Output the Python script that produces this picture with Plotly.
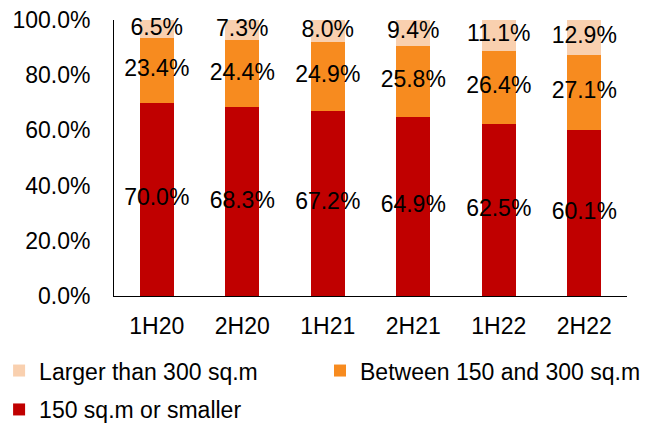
import plotly.graph_objects as go

categories = ["1H20", "2H20", "1H21", "2H21", "1H22", "2H22"]
small = [70.0, 68.3, 67.2, 64.9, 62.5, 60.1]
between = [23.4, 24.4, 24.9, 25.8, 26.4, 27.1]
larger = [6.5, 7.3, 8.0, 9.4, 11.1, 12.9]
y_ticks = [0, 20, 40, 60, 80, 100]

series = [
    ("150 sq.m or smaller", small, "#C00000", "legend3"),
    ("Between 150 and 300 sq.m", between, "#F78B1F", "legend2"),
    ("Larger than 300 sq.m", larger, "#F9D0AF", "legend"),
]

FONT = "Liberation Sans, Arial, sans-serif"
fig = go.Figure()
base = [0.0] * len(categories)
for name, vals, color, lg in series:
    fig.add_trace(go.Bar(x=categories, y=[v / 100 for v in vals], name=name,
                         legend=lg,
                         marker=dict(color=color, line=dict(width=0))))
    mids = [(b + v / 2) / 100 for b, v in zip(base, vals)]
    fig.add_trace(go.Scatter(x=categories, y=mids, mode="text",
                             text=[f"{v:.1f}%" for v in vals],
                             textfont=dict(family=FONT, size=23, color="#000000"),
                             showlegend=False, hoverinfo="skip", cliponaxis=False))
    base = [b + v for b, v in zip(base, vals)]

legend_common = dict(xref="paper", yref="container", xanchor="left",
                     yanchor="bottom", bgcolor="rgba(0,0,0,0)",
                     font=dict(family=FONT, size=23, color="#000000"))

fig.update_layout(
    barmode="stack", bargap=0.6,
    width=662, height=423,
    margin=dict(l=106, r=43, t=12, b=135, autoexpand=False),
    paper_bgcolor="white", plot_bgcolor="white",
    font=dict(family=FONT, size=23, color="#000000"),
    showlegend=True,
    legend=dict(x=-0.224, y=0.092, **legend_common),
    legend2=dict(x=0.4016, y=0.092, **legend_common),
    legend3=dict(x=-0.224, y=0.0, **legend_common),
    xaxis=dict(showline=True, linecolor="#000000", linewidth=1, ticks="",
               showgrid=False, ticklabelstandoff=9, ticklabeloverflow="allow"),
    yaxis=dict(range=[0, 1], tickvals=[t / 100 for t in y_ticks], tickformat=".1%",
               showline=True, linecolor="#000000", linewidth=1, ticks="",
               showgrid=False, zeroline=False, ticklabelstandoff=18,
               ticklabeloverflow="allow"),
)

fig.write_html("out.html")
